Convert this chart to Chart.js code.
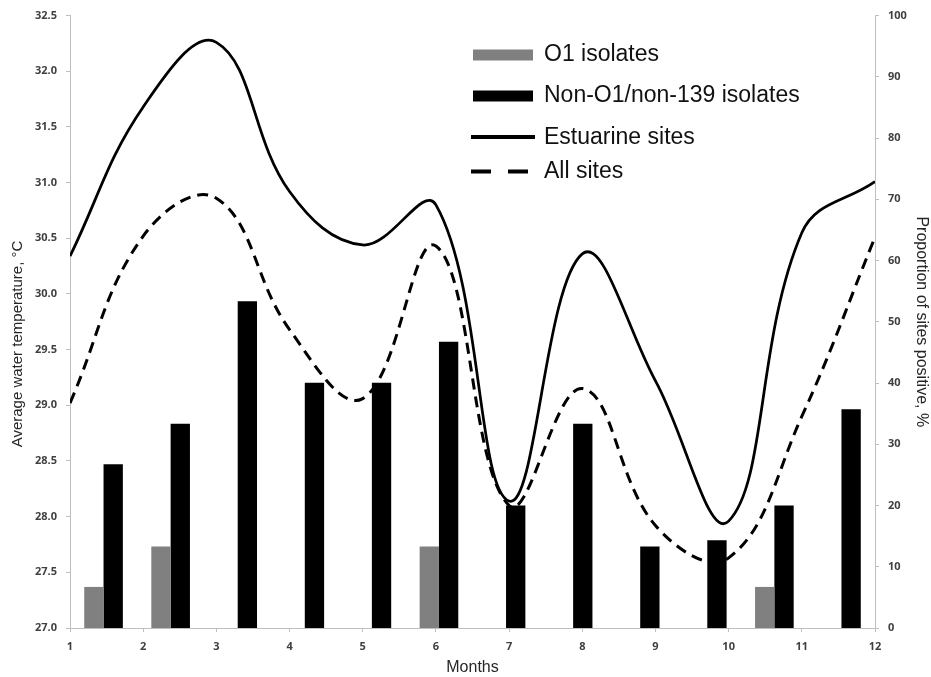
<!DOCTYPE html>
<html>
<head>
<meta charset="utf-8">
<style>
html,body{margin:0;padding:0;background:#fff;}
#wrap{width:931px;height:677px;position:relative;}
#wrap canvas{position:absolute;left:0;top:0;}
</style>
<script src="https://cdn.jsdelivr.net/npm/chart.js@4.4.1/dist/chart.umd.min.js"></script>
</head>
<body>
<div id="wrap"><canvas id="bars" width="931" height="677"></canvas><canvas id="c" width="931" height="677"></canvas></div>
<script>
// ---- data ----
const months = [1, 2, 3, 4, 5, 6, 7, 8, 9, 10, 11, 12];
const monthLabels = ['1', '2', '3', '4', '5', '6', '7', '8', '9', '10', '11', '12'];
const o1Isolates = [6.7, 13.3, 0, 0, 0, 13.3, 0, 0, 0, 0, 6.7, 0];            // % sites positive
const nonO1Isolates = [26.7, 33.3, 53.3, 40, 40, 46.7, 20, 33.3, 13.3, 14.3, 20, 35.7];
const estuarineTemp = [30.34, 31.68, 32.26, 30.92, 30.44, 30.8, 28.14, 30.36, 29.22, 27.96, 30.55, 31.01];
const allSitesTemp = [29.02, 30.52, 30.86, 29.68, 29.06, 30.43, 28.1, 29.15, 27.92, 27.63, 28.9, 30.51];
const tempAxis = { min: 27.0, max: 32.5, step: 0.5 };
const pctAxis = { min: 0, max: 100, step: 10 };
const seriesNames = ['O1 isolates', 'Non-O1/non-139 isolates', 'Estuarine sites', 'All sites'];
const barColors = ['#808080', '#000000'];

const AXIS = '#bfbfbf';
const TICKFONT = { family: '"Open Sans", "Liberation Sans", Arial, sans-serif', size: 11, weight: 'bold' };
const TICKCOLOR = '#404040';
const TITLEFAMILY = '"Liberation Sans", Arial, sans-serif';
const AREA = { left: 70, right: 56, top: 15, bottom: 49 };

const toPts = arr => months.map((m, i) => ({ x: m, y: arr[i] }));

// ---- bars (under the lines) ----
new Chart(document.getElementById('bars'), {
  type: 'bar',
  data: {
    labels: monthLabels,
    datasets: [
      { label: seriesNames[0], data: o1Isolates, backgroundColor: barColors[0],
        categoryPercentage: 0.576, barPercentage: 1.0 },
      { label: seriesNames[1], data: nonO1Isolates, backgroundColor: barColors[1],
        categoryPercentage: 0.576, barPercentage: 1.0 }
    ]
  },
  options: {
    responsive: false, devicePixelRatio: 1, animation: false,
    layout: { padding: AREA },
    plugins: { legend: { display: false }, tooltip: { enabled: false } },
    scales: {
      x: { type: 'category', display: false, offset: true },
      y: { display: false, min: pctAxis.min, max: pctAxis.max }
    }
  }
});

// ---- lines, axes, legend ----
const legendPlugin = {
  id: 'customLegend',
  afterDraw(chart) {
    const ctx = chart.ctx;
    const ds = chart.data.datasets;
    ctx.save();
    ctx.font = '23px ' + TITLEFAMILY;
    ctx.textBaseline = 'middle';
    ctx.textAlign = 'left';
    const tx = 544;
    ctx.fillStyle = barColors[0];
    ctx.fillRect(473, 49.5, 60, 11);
    ctx.fillStyle = barColors[1];
    ctx.fillRect(473, 90.5, 60, 11);
    ctx.strokeStyle = '#000';
    ctx.lineWidth = 4;
    ctx.setLineDash([]);
    ctx.beginPath(); ctx.moveTo(471, 137); ctx.lineTo(535, 137); ctx.stroke();
    ctx.setLineDash([20, 17]);
    ctx.beginPath(); ctx.moveTo(471, 171.5); ctx.lineTo(528, 171.5); ctx.stroke();
    ctx.setLineDash([]);
    ctx.fillStyle = '#111';
    ctx.fillText(seriesNames[0], tx, 55);
    ctx.fillText(seriesNames[1], tx, 95.5);
    ctx.fillText(ds[0].label, tx, 137.5);
    ctx.fillText(ds[1].label, tx, 171.5);
    ctx.font = '15px ' + TITLEFAMILY;
    ctx.fillStyle = '#262626';
    ctx.textAlign = 'center';
    ctx.translate(18, 344);
    ctx.rotate(-Math.PI / 2);
    ctx.fillText('Average water temperature, °C', 0, 0);
    ctx.restore();
  }
};

new Chart(document.getElementById('c'), {
  type: 'line',
  data: {
    datasets: [
      { label: seriesNames[2], data: toPts(estuarineTemp), borderColor: '#000',
        borderWidth: 2.75, pointRadius: 0, tension: 0.4, fill: false,
        xAxisID: 'x', yAxisID: 'y' },
      { label: seriesNames[3], data: toPts(allSitesTemp), borderColor: '#000',
        borderWidth: 3, borderDash: [11, 7], pointRadius: 0, tension: 0.4, fill: false,
        xAxisID: 'x', yAxisID: 'y' }
    ]
  },
  options: {
    responsive: false,
    devicePixelRatio: 1,
    animation: false,
    layout: { padding: { top: AREA.top, left: 0, right: 0, bottom: 0 } },
    plugins: { legend: { display: false }, tooltip: { enabled: false } },
    scales: {
      x: {
        type: 'linear', position: 'bottom', offset: false,
        min: months[0], max: months[months.length - 1],
        ticks: { stepSize: 1, font: TICKFONT, color: TICKCOLOR, padding: 8, maxRotation: 0 },
        grid: { drawOnChartArea: false, color: AXIS, tickLength: 4, offset: false },
        border: { color: AXIS, width: 1 },
        title: { display: true, text: 'Months', font: { family: TITLEFAMILY, size: 16 }, color: '#262626', padding: { top: 0, bottom: 0 } },
        afterFit(s) { s.height = AREA.bottom; }
      },
      y: {
        position: 'left', min: tempAxis.min, max: tempAxis.max,
        ticks: { stepSize: tempAxis.step, font: TICKFONT, color: TICKCOLOR, padding: 9,
          callback: v => Number(v).toFixed(1) },
        grid: { drawOnChartArea: false, color: AXIS, tickLength: 4 },
        border: { color: AXIS, width: 1 },
        afterFit(s) { s.width = AREA.left; }
      },
      y1: {
        position: 'right', min: pctAxis.min, max: pctAxis.max,
        ticks: { stepSize: pctAxis.step, font: TICKFONT, color: TICKCOLOR, padding: 9 },
        grid: { drawOnChartArea: false, color: AXIS, tickLength: 4 },
        border: { color: AXIS, width: 1 },
        title: { display: true, text: 'Proportion of sites positive, %', font: { family: TITLEFAMILY, size: 16 }, color: '#262626', padding: { top: 0, bottom: 0 } },
        afterFit(s) { s.width = AREA.right; }
      }
    }
  },
  plugins: [legendPlugin]
});
</script>
</body>
</html>
